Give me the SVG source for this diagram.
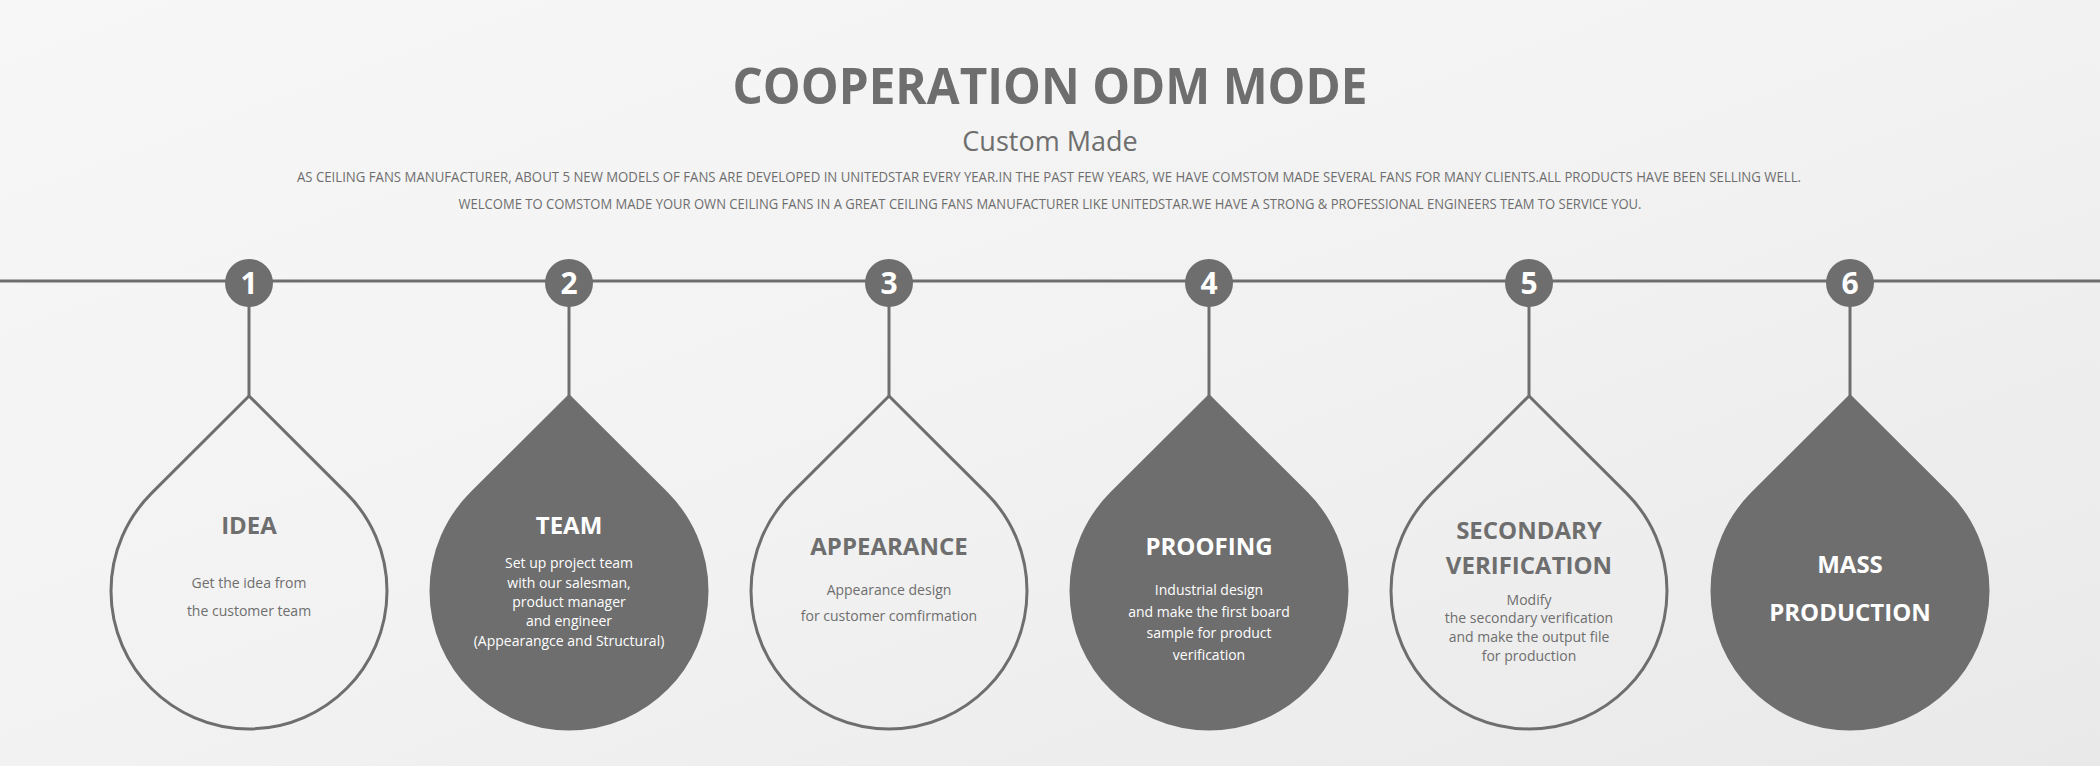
<svg xmlns="http://www.w3.org/2000/svg" width="2100" height="766" viewBox="0 0 2100 766">
<defs>
<linearGradient id="bg" x1="0" y1="0" x2="1" y2="1"><stop offset="0" stop-color="#f7f7f7"/><stop offset="0.5" stop-color="#f2f2f2"/><stop offset="1" stop-color="#e9e9e9"/></linearGradient>
<style>
text{font-family:"Open Sans","Liberation Sans",sans-serif;text-anchor:middle;fill:#6e6e6e}
.ln{stroke:#6e6e6e;stroke-width:3;fill:none}
.dot{fill:#6e6e6e}
.num{fill:#fff;font-size:30px;font-weight:bold}
.o{fill:none;stroke:#6e6e6e;stroke-width:3}
.f{fill:#6e6e6e;stroke:#6e6e6e;stroke-width:3}
.t{font-size:24px;font-weight:bold}
.b{font-size:14px}
.w{fill:#fff}
</style>
</defs>
<rect width="2100" height="766" fill="url(#bg)"/>
<text x="1050" y="104" font-size="50" font-weight="bold" textLength="635" lengthAdjust="spacingAndGlyphs">COOPERATION ODM MODE</text>
<text x="1050" y="151" font-size="27">Custom Made</text>
<text x="1049" y="182" font-size="14" textLength="1504" lengthAdjust="spacingAndGlyphs">AS CEILING FANS MANUFACTURER, ABOUT 5 NEW MODELS OF FANS ARE DEVELOPED IN UNITEDSTAR EVERY YEAR.IN THE PAST FEW YEARS, WE HAVE COMSTOM MADE SEVERAL FANS FOR MANY CLIENTS.ALL PRODUCTS HAVE BEEN SELLING WELL.</text>
<text x="1050" y="209" font-size="14" textLength="1183" lengthAdjust="spacingAndGlyphs">WELCOME TO COMSTOM MADE YOUR OWN CEILING FANS IN A GREAT CEILING FANS MANUFACTURER LIKE UNITEDSTAR.WE HAVE A STRONG &amp; PROFESSIONAL ENGINEERS TEAM TO SERVICE YOU.</text>
<g id="connectors">
<line class="ln" x1="0" y1="281" x2="2100" y2="281"/>
<line class="ln" x1="249" y1="283" x2="249" y2="398"/>
<line class="ln" x1="569" y1="283" x2="569" y2="398"/>
<line class="ln" x1="889" y1="283" x2="889" y2="398"/>
<line class="ln" x1="1209" y1="283" x2="1209" y2="398"/>
<line class="ln" x1="1529" y1="283" x2="1529" y2="398"/>
<line class="ln" x1="1850" y1="283" x2="1850" y2="398"/>
</g>
<g id="node1">
<circle class="dot" cx="249" cy="283" r="24"/><text class="num" x="249" y="294">1</text>
<path class="o" d="M249 396 L346.6 493.4 A138 138 0 1 1 151.4 493.4 Z"/>
<text class="t" x="249" y="534">IDEA</text>
<text class="b" x="249" y="588">Get the idea from</text>
<text class="b" x="249" y="616">the customer team</text>
</g>
<g id="node2">
<circle class="dot" cx="569" cy="283" r="24"/><text class="num" x="569" y="294">2</text>
<path class="f" d="M569 396 L666.6 493.4 A138 138 0 1 1 471.4 493.4 Z"/>
<text class="t w" x="569" y="534">TEAM</text>
<text class="b w" x="569" y="568">Set up project team</text>
<text class="b w" x="569" y="588">with our salesman,</text>
<text class="b w" x="569" y="607">product manager</text>
<text class="b w" x="569" y="626">and engineer</text>
<text class="b w" x="569" y="646">(Appearangce and Structural)</text>
</g>
<g id="node3">
<circle class="dot" cx="889" cy="283" r="24"/><text class="num" x="889" y="294">3</text>
<path class="o" d="M889 396 L986.6 493.4 A138 138 0 1 1 791.4 493.4 Z"/>
<text class="t" x="889" y="555">APPEARANCE</text>
<text class="b" x="889" y="595">Appearance design</text>
<text class="b" x="889" y="621">for customer comfirmation</text>
</g>
<g id="node4">
<circle class="dot" cx="1209" cy="283" r="24"/><text class="num" x="1209" y="294">4</text>
<path class="f" d="M1209 396 L1306.6 493.4 A138 138 0 1 1 1111.4 493.4 Z"/>
<text class="t w" x="1209" y="555">PROOFING</text>
<text class="b w" x="1209" y="595">Industrial design</text>
<text class="b w" x="1209" y="617">and make the first board</text>
<text class="b w" x="1209" y="638">sample for product</text>
<text class="b w" x="1209" y="660">verification</text>
</g>
<g id="node5">
<circle class="dot" cx="1529" cy="283" r="24"/><text class="num" x="1529" y="294">5</text>
<path class="o" d="M1529 396 L1626.6 493.4 A138 138 0 1 1 1431.4 493.4 Z"/>
<text class="t" x="1529" y="539">SECONDARY</text>
<text class="t" x="1529" y="574">VERIFICATION</text>
<text class="b" x="1529" y="605">Modify</text>
<text class="b" x="1529" y="623">the secondary verification</text>
<text class="b" x="1529" y="642">and make the output file</text>
<text class="b" x="1529" y="661">for production</text>
</g>
<g id="node6">
<circle class="dot" cx="1850" cy="283" r="24"/><text class="num" x="1850" y="294">6</text>
<path class="f" d="M1850 396 L1947.6 493.4 A138 138 0 1 1 1752.4 493.4 Z"/>
<text class="t w" x="1850" y="573">MASS</text>
<text class="t w" x="1850" y="621">PRODUCTION</text>
</g>
</svg>
